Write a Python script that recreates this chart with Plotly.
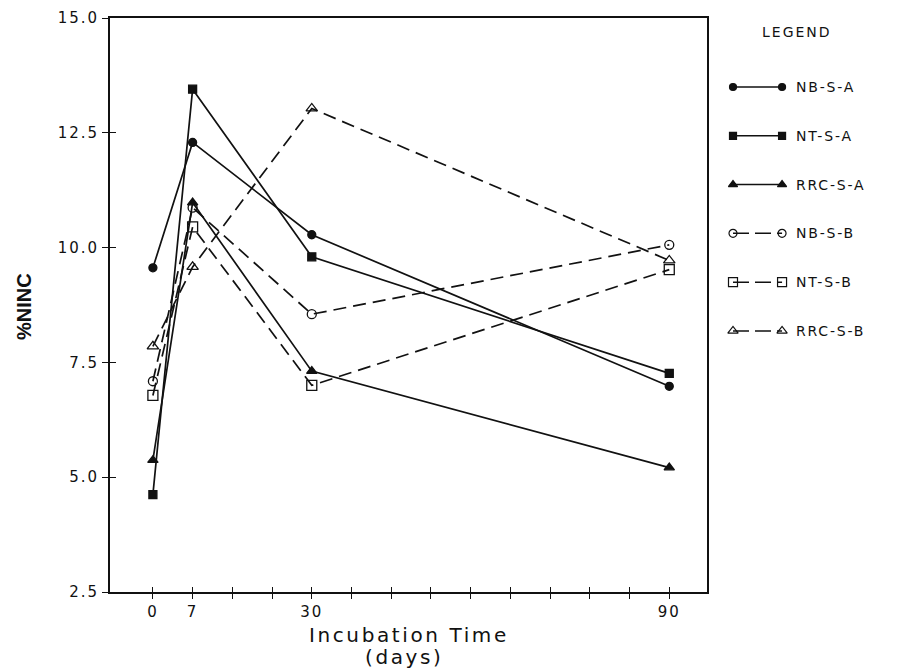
import plotly.graph_objects as go

# Sampling days and measured %NINC per treatment
days = [0, 7, 30, 90]
series_names = ["NB-S-A", "NT-S-A", "RRC-S-A", "NB-S-B", "NT-S-B", "RRC-S-B"]
nb_s_a = [9.56, 12.29, 10.28, 6.98]
nt_s_a = [4.62, 13.45, 9.80, 7.26]
rrc_s_a = [5.37, 10.98, 7.31, 5.21]
nb_s_b = [7.09, 10.87, 8.55, 10.06]
nt_s_b = [6.78, 10.45, 7.00, 9.52]
rrc_s_b = [7.85, 9.58, 13.03, 9.72]
y_ticks = [2.5, 5.0, 7.5, 10.0, 12.5, 15.0]

series_values = [nb_s_a, nt_s_a, rrc_s_a, nb_s_b, nt_s_b, rrc_s_b]

# The time axis is drawn on an even tick grid; each sampling day sits on its own slot
DAY_SLOT = {0: 0, 7: 1, 30: 4, 90: 13}
N_SLOTS = 14

DASH = "13px,7px"
styles = [
    dict(symbol="circle", dash="solid", size=8),
    dict(symbol="square", dash="solid", size=8),
    dict(symbol="triangle-up", dash="solid", size=9),
    dict(symbol="circle-open", dash=DASH, size=9),
    dict(symbol="square-open", dash=DASH, size=10),
    dict(symbol="triangle-up-open", dash=DASH, size=10),
]

FONT = "DejaVu Sans"
INK = "#111111"


def spaced(text, px):
    return f'<span style="letter-spacing:{px}px">{text}</span>'


fig = go.Figure()

slots = [DAY_SLOT[d] for d in days]
for name, vals, st in zip(series_names, series_values, styles):
    fig.add_trace(go.Scatter(
        x=slots, y=vals, mode="lines+markers", name=name,
        line=dict(color=INK, width=1.7, dash=st["dash"]),
        marker=dict(symbol=st["symbol"], size=st["size"], color=INK,
                    line=dict(color=INK, width=1.3)),
        showlegend=False, cliponaxis=False,
    ))

# Hand-drawn style legend: a short segment with a marker at each end
for i, (name, st) in enumerate(zip(series_names, styles)):
    fig.add_trace(go.Scatter(
        x=[0, 1], y=[i, i], mode="lines+markers", xaxis="x2", yaxis="y2",
        line=dict(color=INK, width=1.5, dash="solid" if st["dash"] == "solid" else "16px,6px"),
        marker=dict(symbol=st["symbol"], size=st["size"] - 1, color=INK,
                    line=dict(color=INK, width=1.2)),
        showlegend=False, hoverinfo="skip", cliponaxis=False,
    ))
    fig.add_annotation(x=1.25, y=i, xref="x2", yref="y2", text=spaced(name, 1.8),
                       showarrow=False, xanchor="left", yanchor="middle",
                       font=dict(family=FONT, size=14, color=INK))

fig.add_annotation(x=0.55, y=-1.12, xref="x2", yref="y2", text=spaced("LEGEND", 2),
                   showarrow=False, xanchor="left", yanchor="middle",
                   font=dict(family=FONT, size=14, color=INK))

# Crossing ticks: an overlay axis pair carries the inner half of every tick
fig.add_trace(go.Scatter(x=[None], y=[None], xaxis="x3", yaxis="y3",
                         showlegend=False, hoverinfo="skip"))

W, H = 900, 671
ML, MR, MT, MB = 110, 10, 18, 79
pw = W - ML - MR
plot_right_px = 707
main_dom = (plot_right_px - ML) / pw
leg_left_px = 720
leg_dom = (leg_left_px - ML) / pw

x_range = [-1.08, 13.95]
y_range = [2.5, 15.0]

tick_text = {DAY_SLOT[d]: spaced(str(d), 2) for d in days}
x_tickvals = list(range(N_SLOTS))
x_ticktext = [tick_text.get(s, "") for s in x_tickvals]

axis_common = dict(showgrid=False, zeroline=False, linecolor=INK, linewidth=1.7,
                   tickcolor=INK, tickwidth=1.3)

fig.update_layout(
    width=W, height=H,
    margin=dict(l=ML, r=MR, t=MT, b=MB),
    paper_bgcolor="white", plot_bgcolor="white",
    xaxis=dict(domain=[0, main_dom], range=x_range, tickmode="array",
               tickvals=x_tickvals, ticktext=x_ticktext, ticks="outside", ticklen=5,
               showline=True, mirror=True, tickfont=dict(family=FONT, size=15, color=INK),
               **axis_common),
    yaxis=dict(range=y_range, tickmode="array", tickvals=y_ticks,
               ticktext=[spaced(f"{v:.1f}", 2) for v in y_ticks],
               ticks="outside", ticklen=6, showline=True, mirror=True,
               tickfont=dict(family=FONT, size=15, color=INK), **axis_common),
    xaxis3=dict(domain=[0, main_dom], range=x_range, overlaying="x", anchor="y3",
                tickmode="array", tickvals=x_tickvals, ticks="inside", ticklen=5,
                showticklabels=False, showline=False, showgrid=False, zeroline=False,
                tickcolor=INK, tickwidth=1.3),
    yaxis3=dict(range=y_range, overlaying="y", anchor="x3", tickmode="array",
                tickvals=y_ticks, ticks="inside", ticklen=6, showticklabels=False,
                showline=False, showgrid=False, zeroline=False, tickcolor=INK, tickwidth=1.3),
    xaxis2=dict(domain=[leg_dom, 1], range=[-0.265, 3.2], visible=False, anchor="y2"),
    yaxis2=dict(domain=[0, 1], range=[10.35, -1.414], visible=False, anchor="x2"),
    showlegend=False,
)

# Axis titles
title_cx = main_dom / 2
fig.add_annotation(x=title_cx, y=-0.075, xref="paper", yref="paper",
                   text=spaced("Incubation Time", 2.6), showarrow=False,
                   xanchor="center", yanchor="middle",
                   font=dict(family=FONT, size=20, color=INK))
fig.add_annotation(x=title_cx - 0.006, y=-0.114, xref="paper", yref="paper",
                   text=spaced("(days)", 2.6), showarrow=False,
                   xanchor="center", yanchor="middle",
                   font=dict(family=FONT, size=20, color=INK))
fig.add_annotation(x=-0.110, y=0.497, xref="paper", yref="paper", text="<b>%NINC</b>",
                   textangle=-90, showarrow=False, xanchor="center", yanchor="middle",
                   font=dict(family="Liberation Sans Narrow, Liberation Sans", size=20, color=INK))

fig.write_html("out.html")
